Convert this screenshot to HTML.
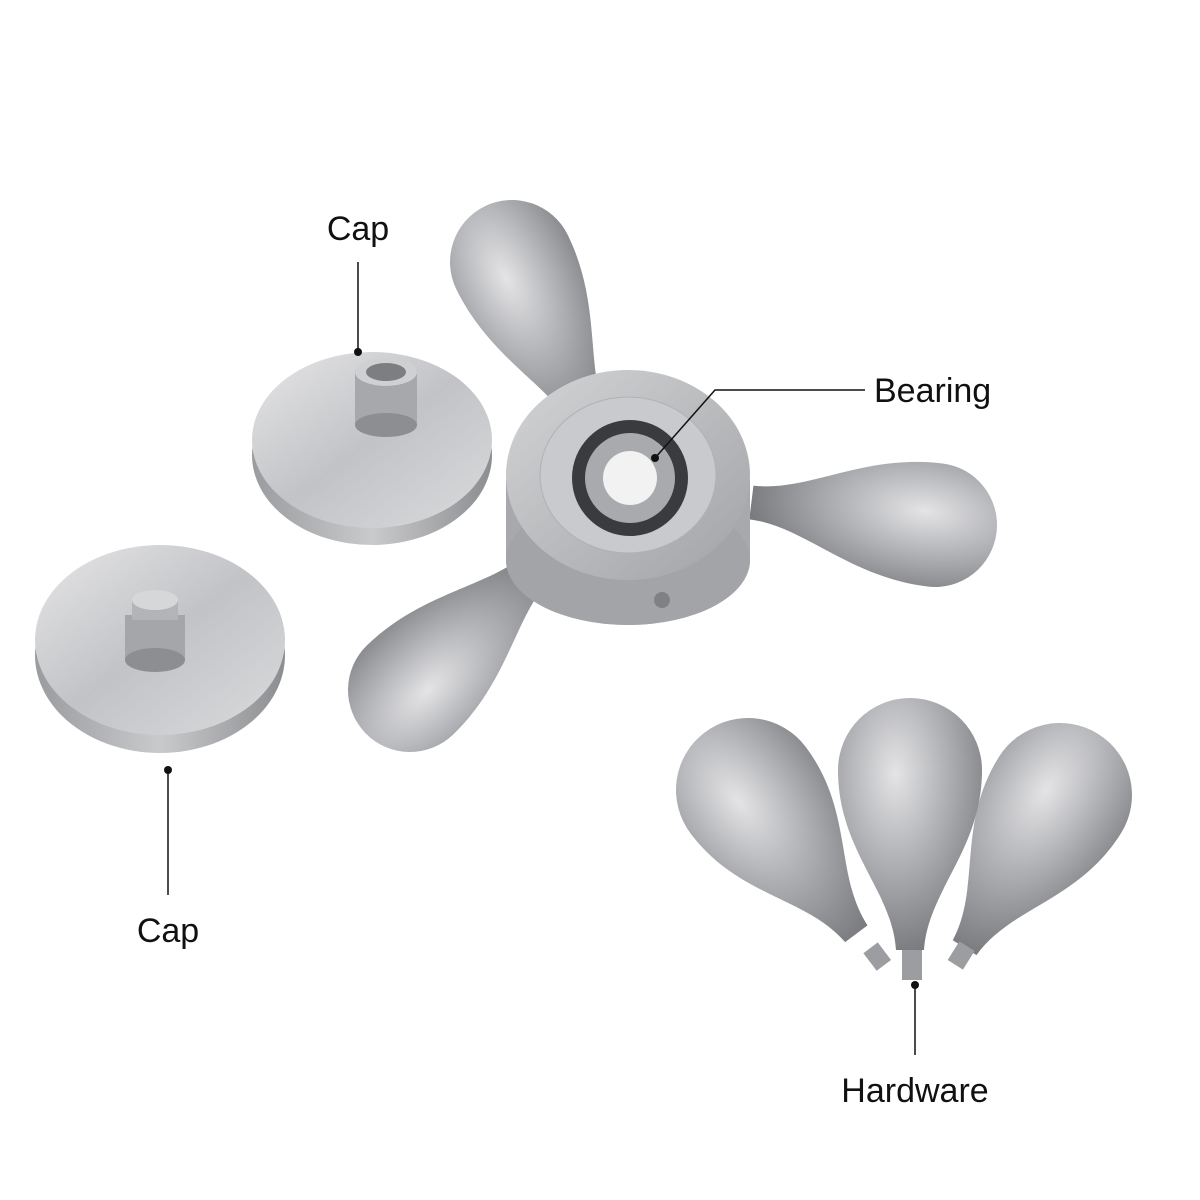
<!DOCTYPE html>
<html><head><style>
html,body{margin:0;padding:0;background:#fff;}
svg{display:block}
text{font-family:"Liberation Sans",sans-serif;font-size:34px;fill:#111}
</style></head><body>
<svg width="1200" height="1200" viewBox="0 0 1200 1200" xmlns="http://www.w3.org/2000/svg">
<defs>
<radialGradient id="tg" cx="0.4" cy="0.3" r="0.8">
<stop offset="0" stop-color="#e4e4e6"/><stop offset="0.5" stop-color="#a9aaae"/><stop offset="1" stop-color="#6e6f73"/>
</radialGradient>
<linearGradient id="disc" x1="0" y1="0" x2="1" y2="1">
<stop offset="0" stop-color="#e6e6e8"/><stop offset="0.5" stop-color="#c2c3c6"/><stop offset="1" stop-color="#dadbdd"/>
</linearGradient>
<linearGradient id="edge" x1="0" y1="0" x2="1" y2="0">
<stop offset="0" stop-color="#9a9b9e"/><stop offset="0.5" stop-color="#c9cacc"/><stop offset="1" stop-color="#8c8d90"/>
</linearGradient>
<linearGradient id="hub" x1="0" y1="0" x2="1" y2="1">
<stop offset="0" stop-color="#d3d4d6"/><stop offset="1" stop-color="#a2a3a6"/>
</linearGradient>
<path id="drop" d="M -17,185 C -17,130 -62,80 -62,0 A 62 62 0 0 1 62 0 C 62,80 17,130 17,185 Z"/>
<path id="hw" d="M -14,180 C -18,120 -72,80 -72,0 A 72 72 0 0 1 72 0 C 72,80 18,120 14,180 Z"/>
</defs>

<!-- cap 1 -->
<ellipse cx="372" cy="455" rx="120" ry="90" fill="url(#edge)"/>
<ellipse cx="372" cy="440" rx="120" ry="88" fill="url(#disc)"/>
<rect x="355" y="370" width="62" height="55" fill="#a7a8ab"/>
<ellipse cx="386" cy="425" rx="31" ry="12" fill="#8d8e91"/>
<ellipse cx="386" cy="372" rx="31" ry="14" fill="#cfd0d2"/>
<ellipse cx="386" cy="372" rx="20" ry="9" fill="#7d7e81"/>

<!-- cap 2 -->
<ellipse cx="160" cy="655" rx="125" ry="98" fill="url(#edge)"/>
<ellipse cx="160" cy="640" rx="125" ry="95" fill="url(#disc)"/>
<rect x="125" y="615" width="60" height="45" fill="#a5a6a9"/>
<ellipse cx="155" cy="660" rx="30" ry="12" fill="#8d8e91"/>
<rect x="132" y="600" width="46" height="20" fill="#b3b4b7"/>
<ellipse cx="155" cy="600" rx="23" ry="10" fill="#d6d7d9"/>

<!-- spinner arms -->
<use href="#drop" fill="url(#tg)" transform="translate(512,262) rotate(-26)"/>
<use href="#drop" fill="url(#tg)" transform="translate(935,525) rotate(97)"/>
<use href="#drop" fill="url(#tg)" transform="translate(410,690) rotate(-134)"/>

<!-- hub -->
<path d="M506,480 L506,560 A122 65 0 0 0 750,560 L750,480 Z" fill="#a8a9ac"/>
<ellipse cx="628" cy="560" rx="122" ry="65" fill="#a3a4a7"/>
<ellipse cx="628" cy="475" rx="122" ry="105" fill="url(#hub)"/>
<ellipse cx="628" cy="475" rx="88" ry="78" fill="#c9cacd" stroke="#b0b1b4"/>
<circle cx="630" cy="478" r="58" fill="#3a3b3e"/>
<circle cx="630" cy="478" r="45" fill="#a9aaad"/>
<circle cx="630" cy="478" r="27" fill="#f2f2f2"/>
<circle cx="662" cy="600" r="8" fill="#808184"/>

<!-- hardware -->
<use href="#hw" fill="url(#tg)" transform="translate(748,790) rotate(-37)"/>
<use href="#hw" fill="url(#tg)" transform="translate(1060,795) rotate(32)"/>
<use href="#hw" fill="url(#tg)" transform="translate(910,770)"/>
<rect x="902" y="950" width="20" height="30" fill="#9c9da0"/>
<rect x="868" y="945" width="18" height="22" fill="#9c9da0" transform="rotate(-37 878 956)"/>
<rect x="952" y="945" width="18" height="22" fill="#9c9da0" transform="rotate(32 962 956)"/>

<!-- labels -->
<g stroke="#111" stroke-width="1.5" fill="none">
<line x1="358" y1="262" x2="358" y2="352"/>
<line x1="168" y1="770" x2="168" y2="895"/>
<polyline points="655,458 715,390 865,390"/>
<line x1="915" y1="985" x2="915" y2="1055"/>
</g>
<g fill="#111">
<circle cx="358" cy="352" r="4"/><circle cx="168" cy="770" r="4"/>
<circle cx="655" cy="458" r="4"/><circle cx="915" cy="985" r="4"/>
</g>
<text x="358" y="240" text-anchor="middle">Cap</text>
<text x="168" y="942" text-anchor="middle">Cap</text>
<text x="874" y="402">Bearing</text>
<text x="915" y="1102" text-anchor="middle">Hardware</text>
</svg>
</body></html>
